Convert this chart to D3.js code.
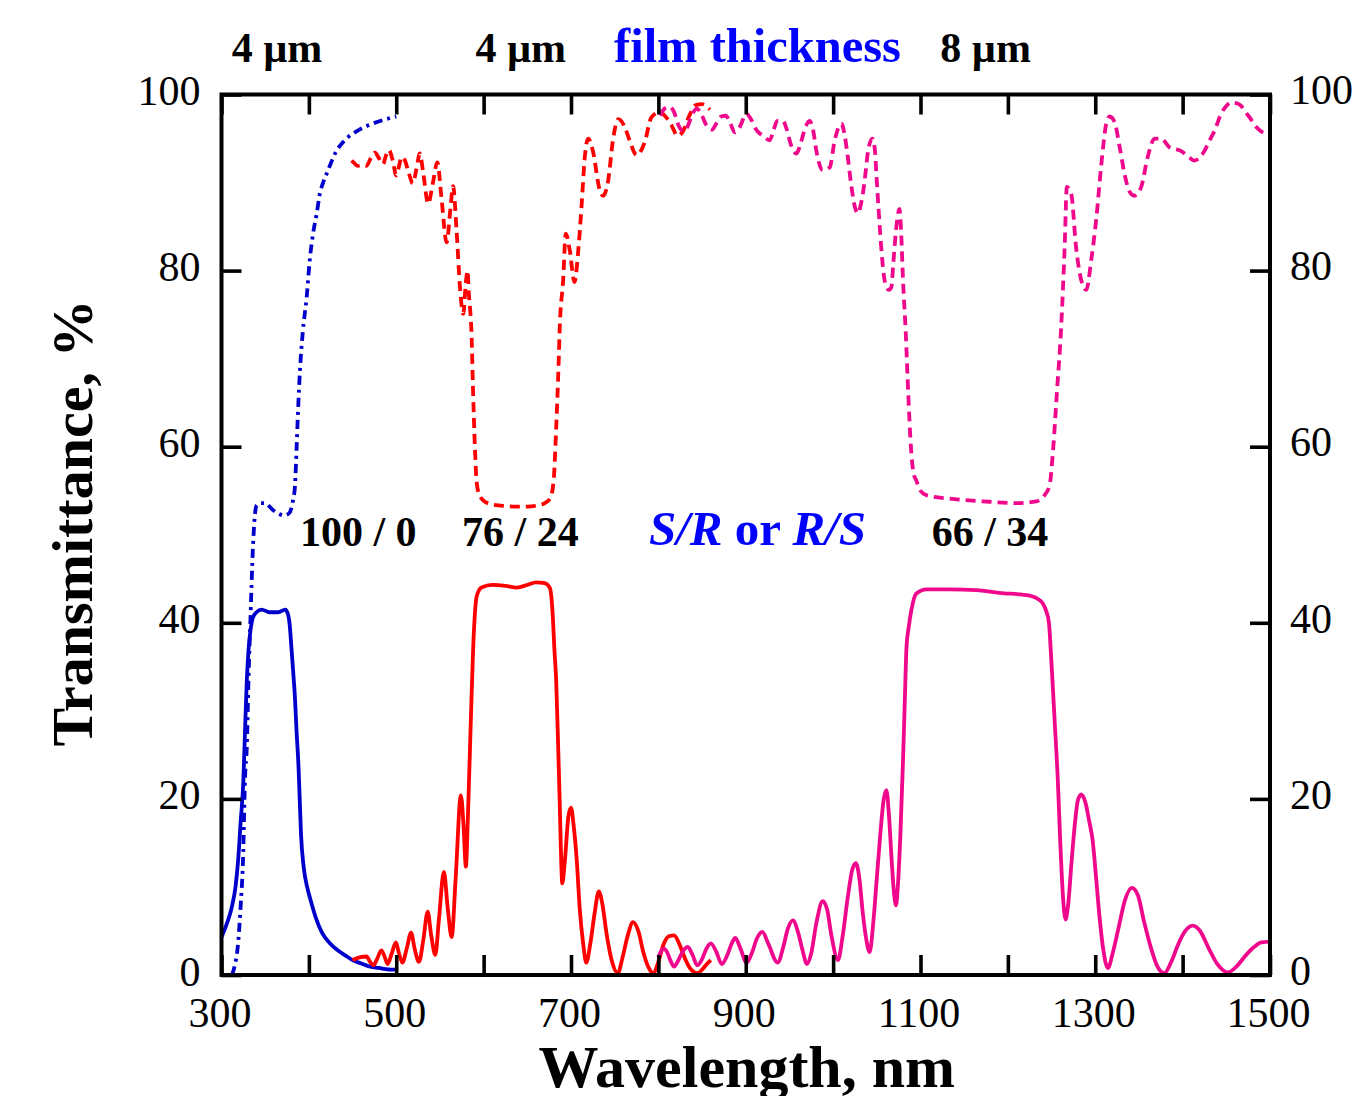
<!DOCTYPE html>
<html>
<head>
<meta charset="utf-8">
<script src="https://cdn.jsdelivr.net/npm/d3@7/dist/d3.min.js"></script>
<style>
  html, body { margin: 0; padding: 0; background: #fff; }
  svg { display: block; }
  text { font-family: "Liberation Serif", "Times New Roman", Times, serif; }
</style>
</head>
<body>
<svg id="chart" width="1352" height="1096"></svg>
<script>
// Transmittance spectra: [wavelength nm, transmittance %]
// Blue: 100/0, 4 µm film; solid = S/R state, dash-dot = R/S state
const blueSolid = [[300,4.3],[306,5.8],[312,7.8],[316,10],[319,13],[322,17.5],[325,22],[327,28],[329,33.5],[331,37],[333,39],[336,40.6],[340,41.2],[346,41.5],[355,41.2],[365,41.2],[373,41.5],[376,41],[378,39.8],[380,37.2],[382,34.5],[384,31.6],[386,27.5],[388,24],[389.5,20],[391,16],[394,12.3],[398,10],[402,8.5],[408,6.5],[415,4.8],[424,3.6],[433,2.8],[442,2.2],[450,1.7],[460,1.3],[468,1.0],[480,0.8],[496,0.6],[500,0.6]];
const blueDashDot = [[312,0],[315,1],[319,3.6],[322,8],[324.6,13],[327,22.5],[329,26],[331,34],[333,40],[336,48.6],[338,52],[340,53.3],[345,53.6],[350,53.6],[355,53.2],[359,52.8],[365,52.4],[372,52.2],[377,52.4],[380,53],[382,54],[384,55.4],[386,60],[388,65],[390,69],[393,73],[397.5,77],[401,81.2],[404.8,84.2],[409,86.5],[412.7,88.8],[416,89.9],[422,91.4],[430,93.3],[441,94.8],[456,95.9],[473,96.7],[492,97.3],[500,97.5]];

// Red: 76/24, 4 µm film
const redSolid = [[450,1.7],[458,2.0],[466,2.1],[470,1.5],[474,1.1],[478,1.8],[483,2.8],[487,2.0],[490,1.25],[495,2.5],[499.6,3.7],[503,2.5],[507,1.4],[512,3.0],[517,4.8],[521,3.0],[526,1.5],[531,4.0],[536,7.2],[540,4.5],[544.7,2.3],[549,6.5],[554.5,11.7],[559,7.5],[563.4,4.3],[568,11],[574,20.4],[577,17],[579.7,12.3],[582,18],[584,24.4],[586,31],[588,37],[590,41],[592,43],[597.6,44],[610,44.3],[625,44.2],[638,44],[650,44.3],[660,44.6],[670,44.5],[676,43.9],[679,41],[681,37],[683,33.5],[685,27],[687,20],[688.5,14],[690,10.4],[693,13],[697,18],[700,19],[703,17],[706.6,13],[710,7.5],[714,3.5],[717.5,1.4],[722,3.5],[727,7],[731.8,9.5],[736,8],[741,4.5],[747,1.5],[753.6,0.2],[759,2],[765,4.5],[771,6],[777,5],[783,2.5],[789,0.8],[794,0.2],[800,1.5],[806,3.5],[812,4.4],[818,4.5],[824,3.5],[830,2],[836,0.8],[844.5,0.2],[850,0.6],[855,1.2],[860,1.7]];
const redDashed = [[449,92.5],[452,92.2],[456,91.9],[461,92],[466,91.9],[471,92.8],[475.6,93.4],[480,92.8],[485,92.1],[488,93],[491.6,93.7],[496,92.5],[500,90.8],[503,91.8],[506,92.9],[510,92.5],[514,91.2],[519,89.9],[523,91.5],[527,93.3],[531,91],[536.5,87.6],[542,90],[547,92.3],[552,88],[557.6,83.2],[562,87],[565,89.6],[569,84.6],[573,78],[576.6,75.1],[580,79],[581.6,80],[583,77.5],[585,75],[586,73.2],[588,66],[590,60],[592,56],[596,54.3],[607,53.5],[620,53.3],[638,53.2],[650,53.2],[660,53.3],[670,53.6],[676,54.1],[680,56],[683,62],[686,70],[687,73.2],[691,78.9],[694,84.2],[698.6,82.3],[704,78.7],[708,81.9],[712,87.2],[715.8,92.9],[719.6,95],[725,93.6],[733,89.1],[736.7,88.5],[742.5,90.2],[748,94.8],[754,97.2],[761.6,96.3],[767,94.8],[775,93.1],[784.4,94.6],[792,97.4],[801.6,98],[809,97.4],[815,96.5],[822,95.3],[828,95.8],[835,97.5],[843,98.8],[850,98.9],[859,98.3]];

// Magenta: 66/34, 8 µm film
const magentaSolid = [[800,2],[803,2.7],[806,3],[810,2.6],[814,1.6],[818,0.95],[822,1.5],[828,2.7],[833.6,3.2],[839,2.3],[844.5,1.1],[850,1.8],[855,3.0],[860,3.6],[866,2.7],[872.6,1.25],[879,2.3],[884,3.6],[888,4.2],[894,3.0],[901,1.4],[907,2.5],[913,4.2],[919,4.9],[926,3.5],[936.5,1.4],[943,3.2],[948,5.2],[954,6.2],[960,4.8],[965,2.8],[970,1.25],[975,2.5],[981,6],[988,8.4],[993,7.5],[998,4.5],[1005.6,1.7],[1011,4.5],[1017,9],[1022,12],[1026,12.7],[1030,11],[1034,7],[1038,4],[1041.8,2.6],[1046,6],[1050,11],[1054,16],[1058,20],[1061,21],[1064,18],[1067,13],[1070,9],[1072,7.9],[1074,10],[1077,16],[1080,24.4],[1082,31],[1084,37.3],[1086.5,39.5],[1089.5,41.4],[1095,43.3],[1106.7,43.8],[1133,43.8],[1164,43.7],[1190,43.4],[1225,43.1],[1236,42.6],[1240,42.2],[1244,41.3],[1247,40],[1249,37],[1251,33.5],[1254,28],[1257,22.5],[1260,15],[1263,9],[1266,6.3],[1269,8],[1273,13],[1277,17.5],[1280,19.8],[1284,20.5],[1289,19.5],[1293,17.5],[1297,15.3],[1301,11],[1305,6.5],[1309,3],[1314.5,0.8],[1320,2.5],[1327,5.5],[1334,8.5],[1342,9.9],[1349,9],[1356,6],[1364,3],[1371,1],[1379,0.2],[1387,1.5],[1395,3.5],[1403,5],[1411.6,5.6],[1420,5],[1430,3],[1440,1.2],[1451.7,0.3],[1462,1],[1472,2.2],[1482,3.2],[1490,3.7],[1500,3.8]];
const magentaDashed = [[802,97.6],[807,98.4],[813,98.6],[818,98],[823,96.5],[829,95.8],[834,96.5],[839,97.8],[844,98.4],[849,97.8],[855,96.5],[861,96],[867,96.8],[872,97.5],[877,97.6],[882,96.8],[887.5,95.7],[893,96.3],[900.8,97.8],[906,97.2],[912,96],[919.8,95.3],[927.4,94.8],[932,96],[936,97],[942.6,97],[947,96],[952,94.2],[958,93.3],[963,94.5],[968,96.2],[973,97],[977,96],[981,93.5],[988,91.4],[996,91.7],[1001.8,94.8],[1009.5,96.7],[1013,95.5],[1016,93.5],[1021,89.5],[1025,87.2],[1028.5,86.5],[1031,87.2],[1034,88.7],[1037,91],[1040,93.6],[1045,95],[1048,93.5],[1049.5,91],[1052,87],[1055,82.7],[1058,79.5],[1061,78.1],[1064,77.8],[1066.6,78.1],[1069,81],[1072,84.6],[1076,87],[1078,84],[1080,78.9],[1083,73.2],[1086,66],[1089,60],[1092,57],[1095,56.2],[1100,55],[1106.7,54.5],[1133,54.1],[1171,53.8],[1209.6,53.6],[1232.5,53.8],[1242,54.5],[1247.7,55.6],[1252,60],[1256,66],[1261,73.6],[1265,82.7],[1267.5,89.5],[1272.5,88.7],[1278,82.7],[1284,78.9],[1289.7,77.8],[1295.4,81.2],[1301,85.7],[1307,92.1],[1312.6,96.7],[1316.4,97.5],[1322,96.9],[1328,94],[1333.5,91],[1339,89],[1345,88.5],[1352.6,89.5],[1360,92.9],[1368,95],[1375.5,95],[1385,94],[1398,93.6],[1406,93],[1413.6,92.5],[1420,92.9],[1425,93.6],[1431,94.8],[1436.6,95.9],[1444,97.8],[1450,98.7],[1455.6,99.1],[1462,99],[1467,98.7],[1472,98],[1476.7,97.4],[1484.3,96.3],[1490,95.8],[1495.7,95.5],[1500,95.3]];

// Axis ticks
const xTicks = [300,400,500,600,700,800,900,1000,1100,1200,1300,1400,1500];
const xTickLabels = [300,500,700,900,1100,1300,1500];
const yTicks = [0,20,40,60,80,100];

// Annotations, centred at the given wavelength
const thicknessLabels = [{text: "4 µm", nm: 363.5}, {text: "4 µm", nm: 642.5}, {text: "8 µm", nm: 1174.5}];
const ratioLabels = [{text: "100 / 0", nm: 456.5}, {text: "76 / 24", nm: 642}, {text: "66 / 34", nm: 1179.5}];

const colors = {blue: "#0000cc", red: "#ff0000", magenta: "#f0088c", label: "#0000ff"};

const svg = d3.select("#chart");
const x = d3.scaleLinear().domain([300, 1500]).range([221.5, 1270]);
const y = d3.scaleLinear().domain([0, 100]).range([975, 94.5]);

const line = d3.line().x(d => x(d[0])).y(d => y(d[1])).curve(d3.curveMonotoneX);

const plot = svg.append("g");
const series = [
  {data: blueDashDot, color: colors.blue, dash: "9,5,3,5"},
  {data: redDashed, color: colors.red, dash: "10,6"},
  {data: magentaDashed, color: colors.magenta, dash: "10,6"},
  {data: blueSolid, color: colors.blue, dash: null},
  {data: redSolid, color: colors.red, dash: null},
  {data: magentaSolid, color: colors.magenta, dash: null}
];
plot.selectAll("path.spec").data(series).join("path")
  .attr("class", "spec")
  .attr("d", d => line(d.data))
  .attr("fill", "none")
  .attr("stroke", d => d.color)
  .attr("stroke-width", 3.8)
  .attr("stroke-dasharray", d => d.dash)
  .attr("stroke-linejoin", "round");

// Axes with inward ticks
const tickLen = 20;
const fmtX = d => xTickLabels.includes(d) ? String(d) : "";
const gB = svg.append("g").attr("transform", `translate(0,${y(0)})`)
  .call(d3.axisBottom(x).tickValues(xTicks).tickSize(-tickLen).tickPadding(22).tickFormat(fmtX));
const gT = svg.append("g").attr("transform", `translate(0,${y(100)})`)
  .call(d3.axisTop(x).tickValues(xTicks).tickSize(-tickLen).tickFormat(""));
const gL = svg.append("g").attr("transform", `translate(${x(300)},0)`)
  .call(d3.axisLeft(y).tickValues(yTicks).tickSize(-tickLen).tickPadding(21).tickFormat(d3.format("d")));
const gR = svg.append("g").attr("transform", `translate(${x(1500)},0)`)
  .call(d3.axisRight(y).tickValues(yTicks).tickSize(-tickLen).tickPadding(20).tickFormat(d3.format("d")));

[gB, gT, gL, gR].forEach(g => {
  g.select(".domain").remove();
  g.selectAll(".tick line").attr("stroke", "#000").attr("stroke-width", 3.6);
  g.selectAll(".tick text").attr("fill", "#000").style("font-size", "42px")
    .style("font-family", '"Liberation Serif", "Times New Roman", serif');
});
gL.selectAll(".tick text").attr("dy", "0.24em");
gR.selectAll(".tick text").attr("dy", "0.22em");
gB.selectAll(".tick text").attr("dx", "-2");

// Plot frame
svg.append("rect")
  .attr("x", x(300)).attr("y", y(100))
  .attr("width", x(1500) - x(300)).attr("height", y(0) - y(100))
  .attr("fill", "none").attr("stroke", "#000").attr("stroke-width", 4);

// Axis titles
svg.append("text")
  .attr("x", (x(300) + x(1500)) / 2 + 1).attr("y", 1087)
  .attr("text-anchor", "middle")
  .style("font-size", "60px").style("font-weight", "bold")
  .text("Wavelength, nm");
svg.append("text")
  .attr("transform", `translate(92,523) rotate(-90)`)
  .attr("text-anchor", "middle")
  .style("font-size", "58px").style("font-weight", "bold")
  .text("Transmittance, %");

// Film thickness annotations
svg.selectAll("text.thick").data(thicknessLabels).join("text")
  .attr("class", "thick")
  .attr("x", d => x(d.nm)).attr("y", 62)
  .attr("text-anchor", "middle")
  .style("font-size", "42px").style("font-weight", "bold")
  .text(d => d.text);
svg.append("text")
  .attr("x", 614).attr("y", 62)
  .style("font-size", "48.5px").style("font-weight", "bold")
  .attr("fill", colors.label)
  .text("film thickness");

// Composition annotations
svg.selectAll("text.ratio").data(ratioLabels).join("text")
  .attr("class", "ratio")
  .attr("x", d => x(d.nm)).attr("y", 546)
  .attr("text-anchor", "middle")
  .style("font-size", "42px").style("font-weight", "bold")
  .text(d => d.text);

const sr = svg.append("text")
  .attr("x", 649).attr("y", 545)
  .style("font-size", "49px").style("font-weight", "bold")
  .attr("fill", colors.label);
[["S/R", true], [" or ", false], ["R/S", true]].forEach(([t, it]) => {
  sr.append("tspan").style("font-style", it ? "italic" : "normal").text(t);
});
</script>
</body>
</html>
